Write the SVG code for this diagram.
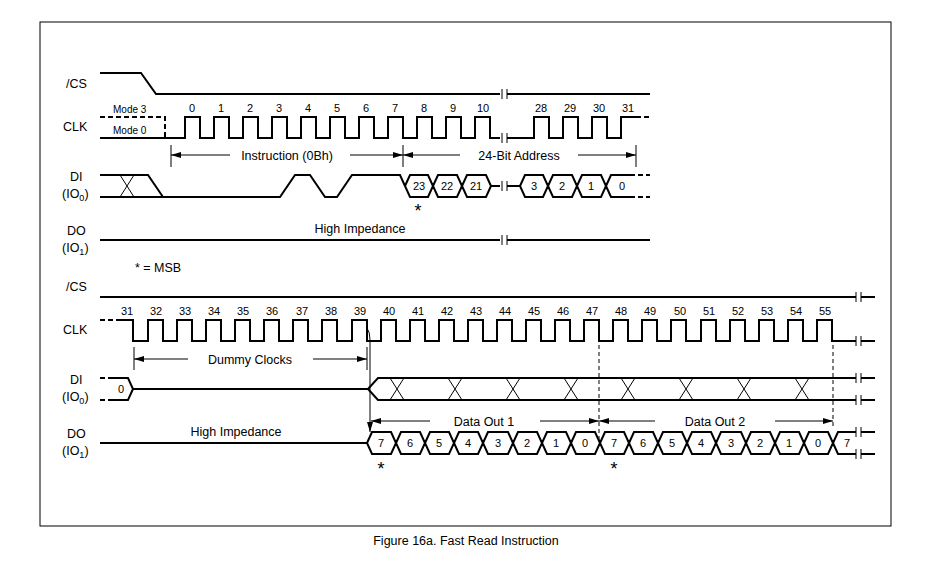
<svg xmlns="http://www.w3.org/2000/svg" width="934" height="571" viewBox="0 0 934 571">
<style>
text{font-family:"Liberation Sans",Arial,sans-serif;fill:#000}
.l{font-size:12.5px}
.n{font-size:11px;text-anchor:middle}
.m{font-size:10px}
.s{font-size:18px;text-anchor:middle}
.w{fill:none;stroke:#000;stroke-width:2}
.t{fill:none;stroke:#000;stroke-width:1}
.d{fill:none;stroke:#000;stroke-width:2;stroke-dasharray:5,3}
.v{fill:none;stroke:#000;stroke-width:1;stroke-dasharray:4,3}
.a{fill:none;stroke:#000;stroke-width:1;marker-end:url(#ah)}
</style>
<defs>
<marker id="ah" viewBox="0 0 10 6" refX="10" refY="3" markerWidth="10" markerHeight="6" markerUnits="userSpaceOnUse" orient="auto"><path d="M0,0 L10,3 L0,6 Z" fill="#000"/></marker>
</defs>
<rect x="0" y="0" width="934" height="571" fill="#fff"/>
<rect x="40" y="22" width="851" height="504" fill="none" stroke="#000" stroke-width="1"/>
<g id="labels">
<text class="l" x="66" y="88">/CS</text>
<text class="l" x="63" y="131">CLK</text>
<text class="l" x="70" y="181">DI</text>
<text class="l" x="62" y="198">(IO<tspan font-size="9" dy="3">0</tspan><tspan dy="-3">)</tspan></text>
<text class="l" x="67" y="235">DO</text>
<text class="l" x="62" y="252">(IO<tspan font-size="9" dy="3">1</tspan><tspan dy="-3">)</tspan></text>
<text class="l" x="66" y="291">/CS</text>
<text class="l" x="63" y="334">CLK</text>
<text class="l" x="70" y="384">DI</text>
<text class="l" x="62" y="401">(IO<tspan font-size="9" dy="3">0</tspan><tspan dy="-3">)</tspan></text>
<text class="l" x="67" y="438">DO</text>
<text class="l" x="62" y="455">(IO<tspan font-size="9" dy="3">1</tspan><tspan dy="-3">)</tspan></text>
<text class="m" x="113" y="113">Mode 3</text>
<text class="m" x="113" y="134">Mode 0</text>
<text class="l" x="135" y="272" font-size="10">* = MSB</text>
<text class="l" x="466" y="545" text-anchor="middle" font-size="14">Figure 16a. Fast Read Instruction</text>
</g>
<g id="top-signals">
<path class="w" d="M100,73 H141 L156,94 H500 M507,94 H650"/>
<path class="t" d="M502,89 V99 M507,89 V99"/>
<path class="d" d="M100,117 H165 V138"/>
<path class="w" d="M100,138 H185 V117 H200 V138 H214 V117 H229 V138 H243 V117 H258 V138 H272 V117 H287 V138 H301 V117 H316 V138 H330 V117 H345 V138 H359 V117 H374 V138 H388 V117 H403 V138 H417 V117 H432 V138 H446 V117 H461 V138 H475 V117 H490 V138 H500"/>
<path class="t" d="M502,133 V143 M507,133 V143"/>
<path class="w" d="M507,138 H534 V117 H549 V138 H563 V117 H578 V138 H592 V117 H607 V138 H621 V117 H636"/>
<path class="d" d="M636,117 H650"/>
<g class="n">
<text x="192" y="112">0</text><text x="221" y="112">1</text><text x="250" y="112">2</text><text x="279" y="112">3</text><text x="308" y="112">4</text><text x="337" y="112">5</text><text x="366" y="112">6</text><text x="395" y="112">7</text><text x="424" y="112">8</text><text x="453" y="112">9</text><text x="483" y="112">10</text>
<text x="541" y="112">28</text><text x="570" y="112">29</text><text x="599" y="112">30</text><text x="628" y="112">31</text>
</g>
<path class="t" d="M171,145 V167 M403,145 V167 M636,145 V167"/>
<path class="a" d="M230,155 H171"/>
<path class="a" d="M350,155 H403"/>
<path class="a" d="M460,155 H403"/>
<path class="a" d="M578,155 H636"/>
<text class="l" x="287" y="160" text-anchor="middle">Instruction (0Bh)</text>
<text class="l" x="519" y="160" text-anchor="middle">24-Bit Address</text>
<path class="w" d="M100,175 H148 L163,197 M100,197 H280 L295,175 H310 L325,197 H337 L352,175 H400 L405,186"/>
<path class="t" d="M120,175 L134,197 M120,197 L134,175"/>
<path class="w" d="M405,186 L410,175 H428 L433,186 L428,197 H410 Z M433,186 L438,175 H457 L462,186 L457,197 H438 Z M462,186 L467,175 H486 L491,186 L486,197 H467 Z"/>
<path class="w" d="M491,186 H500 M507,186 H520"/>
<path class="t" d="M502,181 V191 M507,181 V191"/>
<path class="w" d="M520,186 L525,175 H543 L548,186 L543,197 H525 Z M548,186 L553,175 H572 L577,186 L572,197 H553 Z M577,186 L582,175 H601 L606,186 L601,197 H582 Z M606,186 L611,175 H630 M606,186 L611,197 H630"/>
<path class="d" d="M630,175 H650 M630,197 H650"/>
<g class="n">
<text x="419" y="190">23</text><text x="447" y="190">22</text><text x="476" y="190">21</text>
<text x="534" y="190">3</text><text x="562" y="190">2</text><text x="591" y="190">1</text><text x="622" y="190">0</text>
</g>
<text class="s" x="418" y="217">*</text>
<path class="w" d="M100,240 H500 M507,240 H650"/>
<path class="t" d="M502,235 V245 M507,235 V245"/>
<text class="l" x="360" y="233" text-anchor="middle">High Impedance</text>
</g>
<g id="bottom-signals">
<path class="w" d="M100,297 H856 M861,297 H875"/>
<path class="t" d="M856,292 V302 M861,292 V302"/>
<path class="d" d="M100,320 H118"/>
<path class="w" d="M118,320 H133 V341 H148 V320 H163 V341 H177 V320 H192 V341 H206 V320 H221 V341 H235 V320 H250 V341 H264 V320 H279 V341 H293 V320 H308 V341 H322 V320 H337 V341 H352 V320 H367 V341 H381 V320 H396 V341 H410 V320 H425 V341 H439 V320 H454 V341 H468 V320 H483 V341 H497 V320 H512 V341 H526 V320 H541 V341 H555 V320 H570 V341 H584 V320 H599 V341 H613 V320 H628 V341 H642 V320 H657 V341 H671 V320 H686 V341 H701 V320 H716 V341 H730 V320 H745 V341 H759 V320 H774 V341 H788 V320 H803 V341 H817 V320 H832 V341 H856 M861,341 H875"/>
<path class="t" d="M856,336 V346 M861,336 V346"/>
<g class="n">
<text x="127" y="315">31</text><text x="156" y="315">32</text><text x="185" y="315">33</text><text x="214" y="315">34</text><text x="243" y="315">35</text><text x="272" y="315">36</text><text x="302" y="315">37</text><text x="331" y="315">38</text><text x="360" y="315">39</text><text x="389" y="315">40</text><text x="418" y="315">41</text><text x="447" y="315">42</text><text x="476" y="315">43</text><text x="505" y="315">44</text><text x="534" y="315">45</text><text x="563" y="315">46</text><text x="592" y="315">47</text><text x="621" y="315">48</text><text x="650" y="315">49</text><text x="680" y="315">50</text><text x="709" y="315">51</text><text x="738" y="315">52</text><text x="767" y="315">53</text><text x="796" y="315">54</text><text x="825" y="315">55</text>
</g>
<path class="t" d="M134,347 V370 M367,347 V370"/>
<path class="a" d="M188,359 H134"/>
<path class="a" d="M313,359 H367"/>
<text class="l" x="250" y="364" text-anchor="middle">Dummy Clocks</text>
<path class="d" d="M100,378 H113 M100,400 H113"/>
<path class="w" d="M113,378 H128 L133,389 L128,400 H113 M133,389 H368 L378,378 H856 M368,389 L378,400 H856 M861,378 H875 M861,400 H875"/>
<path class="t" d="M856,373 V383 M861,373 V383 M856,395 V405 M861,395 V405"/>
<text class="n" x="121" y="393">0</text>
<path class="t" d="M390,378 L404,400 M390,400 L404,378 M448,378 L462,400 M448,400 L462,378 M506,378 L520,400 M506,400 L520,378 M564,378 L578,400 M564,400 L578,378 M621,378 L635,400 M621,400 L635,378 M679,378 L693,400 M679,400 L693,378 M737,378 L751,400 M737,400 L751,378 M795,378 L809,400 M795,400 L809,378"/>
<path class="t" d="M367,328 Q370,332 370,340 V432" marker-end="url(#ah)"/>
<path class="v" d="M599,345 V442 M833,345 V427"/>
<path class="a" d="M430,421 H371"/>
<path class="a" d="M540,421 H599"/>
<path class="a" d="M655,421 H599"/>
<path class="a" d="M775,421 H833"/>
<text class="l" x="484" y="426" text-anchor="middle">Data Out 1</text>
<text class="l" x="715" y="426" text-anchor="middle">Data Out 2</text>
<path class="w" d="M100,443 H367"/>
<path class="w" d="M367,443 L372,432 H391 L396,443 L391,454 H372 Z M396,443 L401,432 H420 L425,443 L420,454 H401 Z M425,443 L430,432 H449 L454,443 L449,454 H430 Z M454,443 L459,432 H478 L483,443 L478,454 H459 Z M483,443 L488,432 H508 L513,443 L508,454 H488 Z M513,443 L518,432 H537 L542,443 L537,454 H518 Z M542,443 L547,432 H566 L571,443 L566,454 H547 Z M571,443 L576,432 H595 L600,443 L595,454 H576 Z M600,443 L605,432 H624 L629,443 L624,454 H605 Z M629,443 L634,432 H653 L658,443 L653,454 H634 Z M658,443 L663,432 H682 L687,443 L682,454 H663 Z M687,443 L692,432 H711 L716,443 L711,454 H692 Z M716,443 L721,432 H741 L746,443 L741,454 H721 Z M746,443 L751,432 H770 L775,443 L770,454 H751 Z M775,443 L780,432 H799 L804,443 L799,454 H780 Z M804,443 L809,432 H828 L833,443 L828,454 H809 Z M833,443 L838,432 H856 M833,443 L838,454 H856 M861,432 H875 M861,454 H875"/>
<path class="t" d="M856,427 V437 M861,427 V437 M856,449 V459 M861,449 V459"/>
<g class="n">
<text x="381" y="447">7</text><text x="410" y="447">6</text><text x="439" y="447">5</text><text x="468" y="447">4</text><text x="498" y="447">3</text><text x="527" y="447">2</text><text x="556" y="447">1</text><text x="585" y="447">0</text><text x="614" y="447">7</text><text x="643" y="447">6</text><text x="672" y="447">5</text><text x="701" y="447">4</text><text x="731" y="447">3</text><text x="760" y="447">2</text><text x="789" y="447">1</text><text x="818" y="447">0</text><text x="847" y="447">7</text>
</g>
<text class="s" x="381" y="475">*</text>
<text class="s" x="614" y="475">*</text>
<text class="l" x="236" y="436" text-anchor="middle">High Impedance</text>
</g>
</svg>
